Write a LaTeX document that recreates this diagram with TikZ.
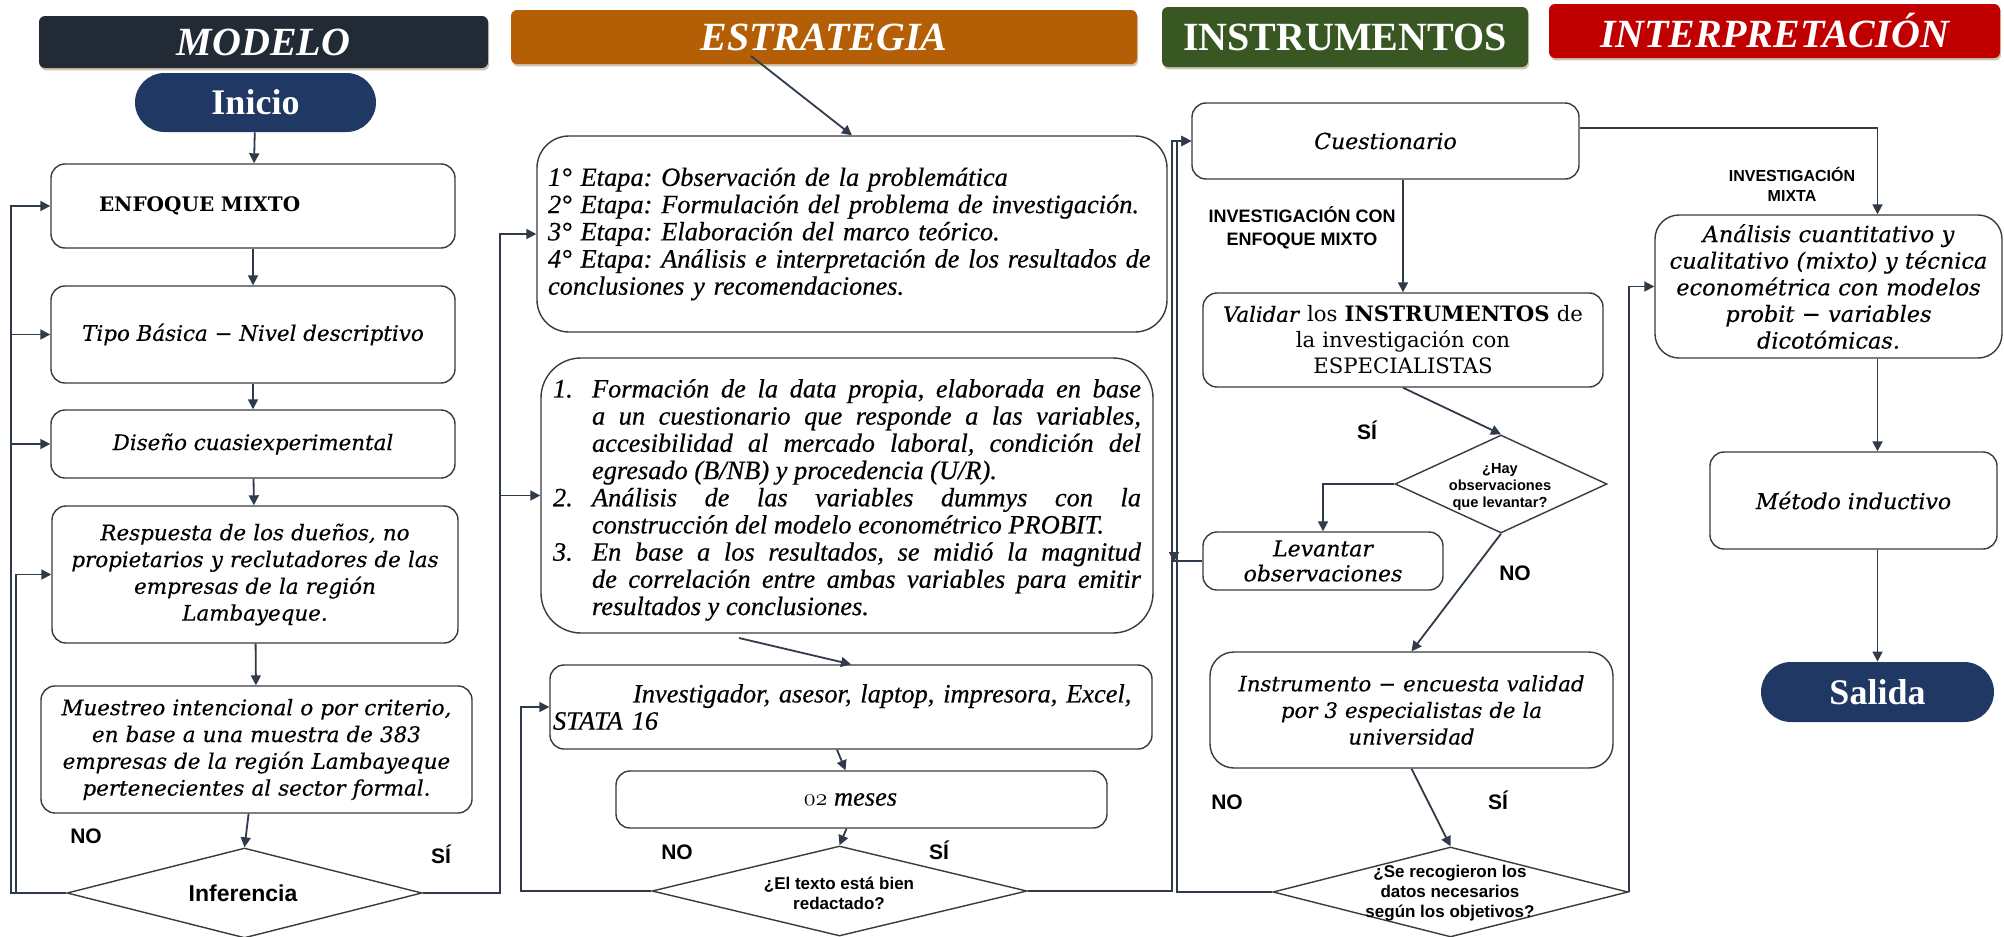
\documentclass[tikz,border=0pt]{standalone}
\usepackage{fontspec}
\usetikzlibrary{arrows.meta,shapes.geometric,shapes.misc,shadows}
\newfontfamily\bodyfont{DejaVu Serif}[ItalicFeatures={FakeBold=0.4}]
\newfontfamily\narrowfont{Liberation Serif}[ItalicFeatures={FakeBold=0.5}]
\newfontfamily\labelfont{Liberation Sans}
\definecolor{modelocol}{HTML}{222A35}
\definecolor{estrcol}{HTML}{B45F06}
\definecolor{instrcol}{HTML}{385723}
\definecolor{intercol}{HTML}{C00000}
\definecolor{pillcol}{HTML}{203864}
\definecolor{linecol}{HTML}{2F3A4B}
\definecolor{boxcol}{HTML}{3A3A3A}
\definecolor{shadecol}{HTML}{9C8A5E}
\newcommand{\boxText}[0]{\bodyfont\itshape\fontsize{10.7}{13.4}\selectfont}
\newcommand{\bigBoxText}[0]{\bodyfont\itshape\fontsize{11}{12.5}\selectfont}
\newcommand{\levText}[0]{\bodyfont\itshape\fontsize{11}{12.5}\selectfont}
\newcommand{\anaText}[0]{\bodyfont\itshape\fontsize{11.2}{13.3}\selectfont}
\newcommand{\midBoxText}[0]{\bodyfont\itshape\fontsize{10.6}{13.3}\selectfont}
\newcommand{\uprightText}[0]{\bodyfont\fontsize{10.6}{13}\selectfont}
\newcommand{\capsText}[0]{\bodyfont\bfseries\fontsize{10}{13}\selectfont}
\newcommand{\narrowText}[0]{\narrowfont\itshape\frenchspacing\fontsize{13.2}{13.6}\selectfont}
\newcommand{\headText}[0]{\narrowfont\bfseries\fontsize{20}{22}\selectfont}
\newcommand{\pillText}[0]{\narrowfont\bfseries\fontsize{18}{20}\selectfont}
\newcommand{\labelText}[0]{\labelfont\bfseries\fontsize{10.5}{12}\selectfont}
\newcommand{\decisionText}[0]{\labelfont\bfseries\fontsize{11.5}{13}\selectfont}
\newcommand{\smallDecision}[0]{\labelfont\bfseries\fontsize{8.5}{10}\selectfont}
\newcommand{\tinyDecision}[0]{\labelfont\bfseries\fontsize{7.3}{8.4}\selectfont}
\newcommand{\noteText}[0]{\labelfont\bfseries\fontsize{9}{11.5}\selectfont}
\newcommand{\noteSmall}[0]{\labelfont\bfseries\fontsize{8}{10}\selectfont}
\newcommand{\stepItem}[1]{\par\noindent\hangindent=19.5pt\hangafter=1\makebox[19.5pt][l]{#1}}
\newcommand{\oldNum}[1]{{\usefont{OML}{cmm}{m}{it}#1}}

\begin{document}
\begin{tikzpicture}[x=0.5pt, y=-0.5pt]
  \tikzset{
    box/.style={draw=boxcol, line width=0.7pt, rounded corners=7pt, fill=white, align=center, inner sep=2pt},
    head/.style={rounded corners=3pt, text=white, inner sep=0pt, drop shadow={shadow xshift=0.6pt, shadow yshift=-1.2pt, opacity=0.5, fill=shadecol}},
    pill/.style={rounded rectangle, fill=pillcol, text=white, inner sep=0pt, font=\pillText},
    decision/.style={diamond, draw=boxcol, line width=0.7pt, inner sep=0pt, fill=white},
    arr/.style={draw=linecol, line width=0.9pt, -{Triangle[length=5pt,width=5pt]}},
    lbl/.style={font=\labelText, inner sep=0pt}
  }
  \useasboundingbox (0,0) rectangle (2004,937);

  \node[head, fill=modelocol, minimum width=224.5pt, minimum height=26pt, font=\headText\itshape] (modeloH) at (263.5,42) {MODELO};
  \node[head, fill=estrcol, minimum width=313pt, minimum height=27pt, font=\headText\itshape] (estrategiaH) at (824,37) {ESTRATEGIA};
  \node[head, fill=instrcol, minimum width=183pt, minimum height=30pt, font=\headText] (instrumentosH) at (1345,37) {INSTRUMENTOS};
  \node[head, fill=intercol, minimum width=225.5pt, minimum height=27pt, font=\headText\itshape] (interpretacionH) at (1774.5,31) {INTERPRETACIÓN};

  \node[pill, minimum width=120.5pt, minimum height=29.5pt] (inicio) at (255.5,102.5) {Inicio};
  \node[box, text width=198pt, minimum height=42pt, align=left, font=\capsText] (enfoque) at (253,206) {\hspace*{22pt}ENFOQUE MIXTO};
  \node[box, minimum width=202pt, minimum height=48.5pt, font=\boxText] (tipo) at (253,334.5) {Tipo Básica − Nivel descriptivo};
  \node[box, minimum width=202pt, minimum height=34pt, font=\boxText] (diseno) at (253,444) {Diseño cuasiexperimental};
  \node[box, text width=199pt, minimum height=68.5pt, font=\boxText] (respuesta) at (255,574.5) {Respuesta de los dueños, no\\ propietarios y reclutadores de las\\ empresas de la región\\ Lambayeque.};
  \node[box, text width=211.5pt, minimum height=63.5pt, font=\boxText] (muestreo) at (256.5,749.5) {Muestreo intencional o por criterio,\\ en base a una muestra de 383\\ empresas de la región Lambayeque\\ pertenecientes al sector formal.};
  \node[decision, minimum width=177.5pt, minimum height=45pt] (inferencia) at (244.5,893) {};
  \node[font=\decisionText] (inferenciaT) at (243,893) {Inferencia};

  \node[box, rounded corners=16pt, text width=304pt, inner xsep=5.5pt, minimum height=98pt, align=left, font=\narrowText] (etapas) at (852,234) {1° Etapa: Observación de la problemática\\ 2° Etapa: Formulación del problema de investigación.\\ 3° Etapa: Elaboración del marco teórico.\\ 4° Etapa: Análisis e interpretación de los resultados de\\ conclusiones y recomendaciones.};
  \node[box, rounded corners=20pt, text width=294pt, inner xsep=6pt, minimum height=137.5pt, align=justify, font=\narrowText] (formacion) at (847,495.5) {\tolerance=10000
    \stepItem{1.}Formación de la data propia, elaborada en base\linebreak a un cuestionario que responde a las variables,\linebreak accesibilidad al mercado laboral, condición del\linebreak egresado (B/NB) y procedencia (U/R).
    \stepItem{2.}Análisis de las variables dummys con la\linebreak construcción del modelo econométrico PROBIT.
    \stepItem{3.}En base a los resultados, se midió la magnitud\linebreak de correlación entre ambas variables para emitir\linebreak resultados y conclusiones.\par};
  \node[box, text width=298pt, inner xsep=1.5pt, minimum height=42pt, align=left, font=\narrowText] (recursos) at (851,707) {\hspace*{40pt}Investigador, asesor, laptop, impresora, Excel,\\ STATA 16};
  \node[box, minimum width=245.5pt, minimum height=28.5pt, font=\narrowText] (meses) at (861.5,799.5) {\oldNum{02} meses\hspace*{11pt}};
  \node[decision, minimum width=187.5pt, minimum height=45pt] (texto) at (839.5,891) {};
  \node[font=\smallDecision, align=center] (textoT) at (839,893) {¿El texto está bien\\ redactado?};

  \node[box, minimum width=193.5pt, minimum height=38pt, font=\bigBoxText] (cuestionario) at (1385.5,141) {Cuestionario};
  \node[box, text width=196pt, minimum height=47pt, font=\uprightText] (validar) at (1403,340) {\textit{Validar} los \textbf{INSTRUMENTOS} de\\ la investigación con\\ ESPECIALISTAS};
  \node[decision, minimum width=106pt, minimum height=49pt] (hay) at (1501,484) {};
  \node[font=\tinyDecision, align=center] (hayT) at (1500,487) {¿Hay\\ observaciones\\ que levantar?};
  \node[box, text width=116pt, minimum height=29pt, font=\levText] (levantar) at (1323,561) {Levantar\\ observaciones};
  \node[box, text width=197.5pt, minimum height=58pt, rounded corners=12pt, font=\midBoxText] (instrumento) at (1411.5,710) {Instrumento − encuesta validad\\ por 3 especialistas de la\\ universidad};
  \node[decision, minimum width=177.5pt, minimum height=45pt] (recogio) at (1450.5,892) {};
  \node[font=\smallDecision, align=center] (recogioT) at (1450,893) {¿Se recogieron los\\ datos necesarios\\ según los objetivos?};

  \node[box, text width=169.5pt, minimum height=71.5pt, rounded corners=12pt, font=\anaText] (analisis) at (1828.5,286.5) {Análisis cuantitativo y\\ cualitativo (mixto) y técnica\\ econométrica con modelos\\ probit − variables\\ dicotómicas.};
  \node[box, minimum width=143.5pt, minimum height=48.5pt, font=\bigBoxText] (metodo) at (1853.5,500.5) {Método inductivo};
  \node[pill, minimum width=116.5pt, minimum height=30pt] (salida) at (1877.5,692) {Salida};

  \node[lbl] (noA) at (86,836) {NO};
  \node[lbl] (siA) at (441,854) {SÍ};
  \node[lbl] (noB) at (677,852) {NO};
  \node[lbl] (siB) at (939,850) {SÍ};
  \node[lbl, font=\noteText, align=center] (mixtoL) at (1302,228) {INVESTIGACIÓN CON\\ ENFOQUE MIXTO};
  \node[lbl] (siC) at (1367,430) {SÍ};
  \node[lbl] (noC) at (1515,573) {NO};
  \node[lbl] (noD) at (1227,802) {NO};
  \node[lbl] (siD) at (1498,800) {SÍ};
  \node[lbl, font=\noteSmall, align=center] (mixtaL) at (1792,184) {INVESTIGACIÓN\\ MIXTA};

  \coordinate (loopA) at (11,0);
  \coordinate (loopA2) at (16,0);
  \coordinate (loopB) at (500,0);
  \coordinate (loopC) at (521,0);
  \coordinate (loopD) at (1172,0);
  \coordinate (loopE) at (1177,0);
  \coordinate (estrA) at (751,56);
  \coordinate (formA) at (739,638);
  \coordinate (levA) at (1174,562);

  \draw[arr] (inicio) -- (enfoque);
  \draw[arr] (enfoque) -- (tipo);
  \draw[arr] (tipo) -- (diseno);
  \draw[arr] (diseno) -- (respuesta);
  \draw[arr] (respuesta) -- (muestreo);
  \draw[arr] (muestreo) -- (inferencia.north);
  \draw[arr] (inferencia.west) -- (inferencia.west -| loopA) |- (enfoque.west);
  \draw[arr] (tipo.west -| loopA) -- (tipo.west);
  \draw[arr] (diseno.west -| loopA) -- (diseno.west);
  \draw[arr] (inferencia.west) -- (inferencia.west -| loopA2) |- (respuesta.west);
  \draw[arr] (inferencia.east) -- (inferencia.east -| loopB) |- (etapas.west);
  \draw[arr] (loopB |- formacion.west) -- (formacion.west);
  \draw[arr] (estrA) -- (etapas.north);
  \draw[arr] (formA) -- (recursos.north);
  \draw[arr] ([xshift=-7pt]recursos.south) -- ([xshift=-8pt]meses.north);
  \draw[arr] ([xshift=-7.5pt]meses.south) -- (texto.north);
  \draw[arr] (texto.west) -- (texto.west -| loopC) |- (recursos.west);
  \draw[arr] (texto.east) -- (texto.east -| loopD) |- (cuestionario.west);
  \draw[arr] (recogio.west) -- (recogio.west -| loopE) |- (cuestionario.west);
  \draw[arr] (levantar.west) -| (levA);
  \draw[arr] (cuestionario.south -| validar.north) -- (validar.north);
  \draw[arr] (validar.south) -- (hay.north);
  \draw[arr] (hay.west) -| (levantar.north);
  \draw[arr] (hay.south) -- (instrumento.north);
  \draw[arr] (instrumento.south) -- (recogio.north);
  \draw[arr] (recogio.east) |- (analisis.west);
  \draw[arr] ([yshift=6.5pt]cuestionario.east) -| ([xshift=24.5pt]analisis.north);
  \draw[arr] (analisis.south -| salida.north) -- (metodo.north -| salida.north);
  \draw[arr] (metodo.south -| salida.north) -- (salida.north);
\end{tikzpicture}
\end{document}
